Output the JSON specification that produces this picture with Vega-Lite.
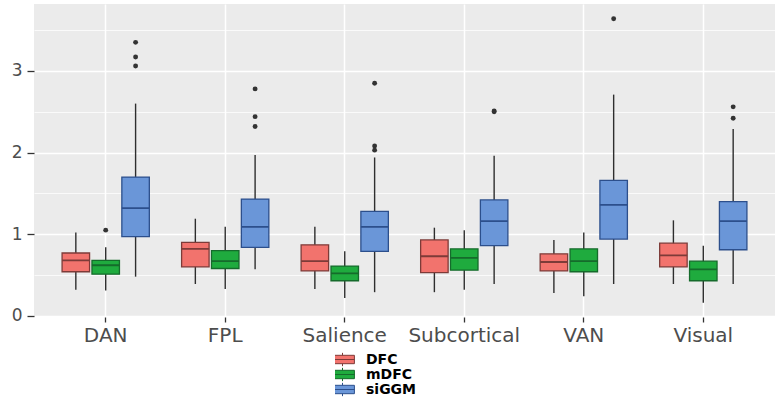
{
  "$schema": "https://vega.github.io/schema/vega-lite/v6.json",
  "width": 741,
  "height": 313,
  "autosize": {"type": "none"},
  "padding": {"left": 34, "top": 4, "right": 2, "bottom": 84},
  "background": "white",
  "config": {
    "view": {"fill": "#EBEBEB", "stroke": null},
    "font": "DejaVu Sans"
  },
  "datasets": {
    "boxes": [
      {"network": "DAN", "method": "DFC", "lo": 0.32, "q1": 0.54, "med": 0.68, "q3": 0.77, "hi": 1.02},
      {"network": "DAN", "method": "mDFC", "lo": 0.31, "q1": 0.51, "med": 0.62, "q3": 0.68, "hi": 0.84},
      {"network": "DAN", "method": "siGGM", "lo": 0.48, "q1": 0.97, "med": 1.32, "q3": 1.70, "hi": 2.60},
      {"network": "FPL", "method": "DFC", "lo": 0.39, "q1": 0.60, "med": 0.82, "q3": 0.90, "hi": 1.19},
      {"network": "FPL", "method": "mDFC", "lo": 0.33, "q1": 0.58, "med": 0.67, "q3": 0.80, "hi": 1.09},
      {"network": "FPL", "method": "siGGM", "lo": 0.57, "q1": 0.84, "med": 1.09, "q3": 1.43, "hi": 1.97},
      {"network": "Salience", "method": "DFC", "lo": 0.33, "q1": 0.55, "med": 0.67, "q3": 0.87, "hi": 1.09},
      {"network": "Salience", "method": "mDFC", "lo": 0.22, "q1": 0.43, "med": 0.52, "q3": 0.61, "hi": 0.79},
      {"network": "Salience", "method": "siGGM", "lo": 0.29, "q1": 0.79, "med": 1.09, "q3": 1.28, "hi": 1.94},
      {"network": "Subcortical", "method": "DFC", "lo": 0.29, "q1": 0.53, "med": 0.73, "q3": 0.93, "hi": 1.08},
      {"network": "Subcortical", "method": "mDFC", "lo": 0.32, "q1": 0.56, "med": 0.71, "q3": 0.82, "hi": 1.05},
      {"network": "Subcortical", "method": "siGGM", "lo": 0.39, "q1": 0.86, "med": 1.16, "q3": 1.42, "hi": 1.96},
      {"network": "VAN", "method": "DFC", "lo": 0.28, "q1": 0.55, "med": 0.66, "q3": 0.76, "hi": 0.93},
      {"network": "VAN", "method": "mDFC", "lo": 0.24, "q1": 0.54, "med": 0.67, "q3": 0.82, "hi": 1.02},
      {"network": "VAN", "method": "siGGM", "lo": 0.39, "q1": 0.94, "med": 1.36, "q3": 1.66, "hi": 2.71},
      {"network": "Visual", "method": "DFC", "lo": 0.39, "q1": 0.60, "med": 0.74, "q3": 0.89, "hi": 1.17},
      {"network": "Visual", "method": "mDFC", "lo": 0.16, "q1": 0.43, "med": 0.57, "q3": 0.67, "hi": 0.86},
      {"network": "Visual", "method": "siGGM", "lo": 0.39, "q1": 0.81, "med": 1.16, "q3": 1.40, "hi": 2.29}
    ],
    "outliers": [
      {"network": "DAN", "method": "mDFC", "value": 1.05},
      {"network": "DAN", "method": "siGGM", "value": 3.35},
      {"network": "DAN", "method": "siGGM", "value": 3.17},
      {"network": "DAN", "method": "siGGM", "value": 3.06},
      {"network": "FPL", "method": "siGGM", "value": 2.78},
      {"network": "FPL", "method": "siGGM", "value": 2.44},
      {"network": "FPL", "method": "siGGM", "value": 2.32},
      {"network": "Salience", "method": "siGGM", "value": 2.85},
      {"network": "Salience", "method": "siGGM", "value": 2.08},
      {"network": "Salience", "method": "siGGM", "value": 2.03},
      {"network": "Subcortical", "method": "siGGM", "value": 2.50},
      {"network": "Subcortical", "method": "siGGM", "value": 2.51},
      {"network": "VAN", "method": "siGGM", "value": 3.64},
      {"network": "Visual", "method": "siGGM", "value": 2.56},
      {"network": "Visual", "method": "siGGM", "value": 2.42}
    ]
  },
  "layer": [
    {
      "data": {"name": "boxes"},
      "mark": {"type": "rule", "color": "#2E2E2E", "strokeWidth": 1.4},
      "encoding": {
        "x": {
          "field": "network", "type": "nominal", "title": null,
          "scale": {"paddingInner": 0.25, "paddingOuter": 0.225},
          "axis": {
            "domain": false, "labelAngle": 0, "labelFontSize": 20, "labelColor": "#4D4D4D",
            "labelPadding": 3, "tickSize": 5, "tickColor": "#333333", "tickWidth": 1.3,
            "grid": true, "gridColor": "white", "gridWidth": 1.5
          }
        },
        "xOffset": {"field": "method", "type": "nominal", "scale": {"paddingInner": 0.08, "paddingOuter": 0.04}},
        "y": {
          "field": "lo", "type": "quantitative", "title": null,
          "scale": {"domain": [-0.014, 3.82], "nice": false, "zero": false},
          "axis": {
            "domain": false,
            "values": [0, 0.5, 1, 1.5, 2, 2.5, 3, 3.5],
            "labelExpr": "datum.value % 1 === 0 ? format(datum.value, 'd') : ''",
            "labelFontSize": 17, "labelColor": "#4D4D4D", "labelPadding": 5,
            "tickSize": 7, "tickColor": "#333333", "tickWidth": 1.3,
            "tickOpacity": {"condition": {"test": "datum.value % 1 === 0", "value": 1}, "value": 0},
            "grid": true, "gridColor": "white",
            "gridWidth": {"condition": {"test": "datum.value % 1 === 0", "value": 1.5}, "value": 0.75}
          }
        },
        "y2": {"field": "hi"}
      }
    },
    {
      "data": {"name": "boxes"},
      "mark": {"type": "bar", "strokeWidth": 1.3},
      "encoding": {
        "x": {"field": "network", "type": "nominal"},
        "xOffset": {"field": "method", "type": "nominal"},
        "y": {"field": "q1", "type": "quantitative", "scale": {"domain": [-0.014, 3.82], "nice": false, "zero": false}},
        "y2": {"field": "q3"},
        "fill": {
          "field": "method", "type": "nominal",
          "scale": {"domain": ["DFC", "mDFC", "siGGM"], "range": ["#F2736D", "#1FAB3E", "#6A96D8"]},
          "legend": {
            "title": null, "orient": "none", "legendX": 301, "legendY": 348,
            "symbolType": "M-1.7,-0.6H1.7V0.6H-1.7Z M-1.7,0H1.7 M0,-0.6V-0.95 M0,0.6V0.95",
            "symbolSize": 196, "symbolStrokeColor": "#555555", "symbolStrokeWidth": 1,
            "symbolOpacity": 1, "clipHeight": 15,
            "labelFont": "DejaVu Sans", "labelFontWeight": "bold", "labelFontSize": 14, "labelColor": "black",
            "labelOffset": 16, "rowPadding": 0
          }
        },
        "stroke": {
          "field": "method", "type": "nominal",
          "scale": {"domain": ["DFC", "mDFC", "siGGM"], "range": ["#7D3B38", "#156B2B", "#2C4F8C"]},
          "legend": null
        }
      }
    },
    {
      "data": {"name": "boxes"},
      "mark": {"type": "bar", "strokeWidth": 1.8, "fillOpacity": 0},
      "encoding": {
        "x": {"field": "network", "type": "nominal"},
        "xOffset": {"field": "method", "type": "nominal"},
        "y": {"field": "med", "type": "quantitative", "scale": {"domain": [-0.014, 3.82], "nice": false, "zero": false}},
        "y2": {"field": "med"},
        "stroke": {"field": "method", "type": "nominal", "legend": null}
      }
    },
    {
      "data": {"name": "outliers"},
      "mark": {"type": "point", "filled": true, "color": "#333333", "size": 24, "opacity": 1},
      "encoding": {
        "x": {"field": "network", "type": "nominal"},
        "xOffset": {"field": "method", "type": "nominal"},
        "y": {"field": "value", "type": "quantitative", "scale": {"domain": [-0.014, 3.82], "nice": false, "zero": false}}
      }
    }
  ]
}
